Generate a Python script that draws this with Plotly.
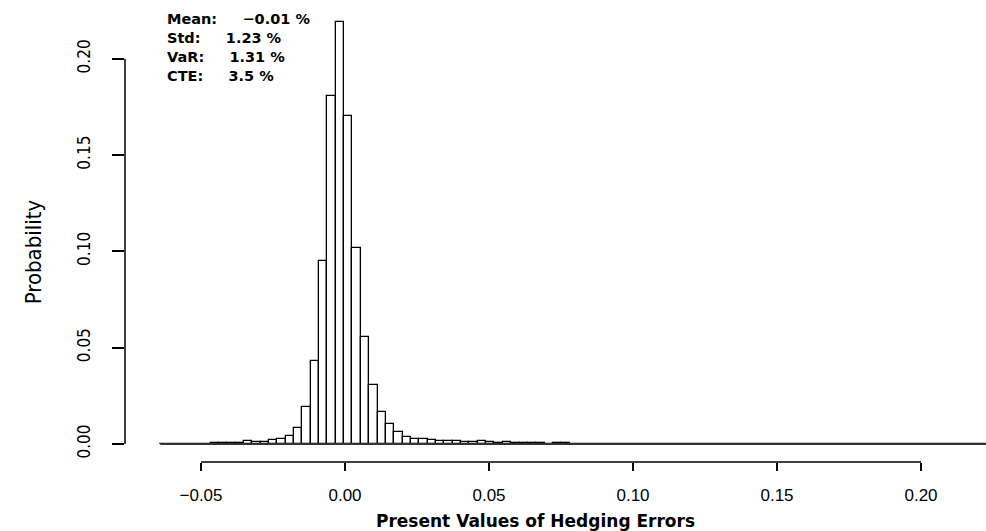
import plotly.graph_objects as go

# histogram of present values of hedging errors (probability per bin)
bin_start = -0.0641
bin_width = 0.0029
probs = [
    0.0001, 0.0, 0.0002, 0.0, 0.0001, 0.0002, 0.0003, 0.0005, 0.0005, 0.0006,
    0.0015, 0.0008, 0.0012, 0.0019, 0.0026, 0.0043, 0.0081, 0.0194, 0.0431, 0.0951,
    0.1810, 0.2194, 0.1706, 0.1017, 0.0557, 0.0306, 0.0167, 0.0104, 0.0061, 0.0038,
    0.0028, 0.0024, 0.0022, 0.0017, 0.0017, 0.0015, 0.0010, 0.0009, 0.0014, 0.0011,
    0.0007, 0.0008, 0.0005, 0.0004, 0.0004, 0.0003, 0.0002, 0.0003, 0.0003, 0.0002,
    0.0002, 0.0002, 0.0002, 0.0, 0.0, 0.0002, 0.0002, 0.0002, 0.0002, 0.0002,
    0.0002, 0.0002, 0.0002, 0.0002, 0.0002, 0.0, 0.0002, 0.0002, 0.0002, 0.0002,
    0.0002, 0.0002, 0.0002, 0.0002, 0.0002, 0.0001, 0.0, 0.0, 0.0, 0.0,
    0.0, 0.0, 0.0, 0.0, 0.0, 0.0, 0.0, 0.0, 0.0, 0.0,
    0.0002, 0.0002, 0.0002, 0.0001, 0.0002, 0.0002, 0.0002, 0.0002, 0.0002,
]
x_ticks = [-0.05, 0.00, 0.05, 0.10, 0.15, 0.20]
y_ticks = [0.00, 0.05, 0.10, 0.15, 0.20]

stats_labels = ["Mean:", "Std:", "VaR:", "CTE:"]
stats_values = ["\u22120.01", "1.23", "1.31", "3.5"]

centers = [bin_start + (i + 0.5) * bin_width for i in range(len(probs))]
x_end = bin_start + len(probs) * bin_width

narrow = "Liberation Sans Narrow, DejaVu Sans Condensed, Arial Narrow, sans-serif"
arial = "Liberation Sans, Arial, Helvetica, sans-serif"
wide = "DejaVu Sans, Verdana, sans-serif"

fig = go.Figure()
fig.add_trace(go.Bar(
    x=centers, y=probs, width=bin_width,
    marker=dict(color="white", line=dict(color="black", width=1.3)),
    hoverinfo="x+y",
))

# baseline under the bars and R-style axis lines (only between first/last tick)
fig.add_shape(type="line", xref="x", yref="y", x0=bin_start, x1=x_end, y0=0, y1=0,
              line=dict(color="#333333", width=1.8))
fig.add_shape(type="line", xref="x", yref="paper", x0=x_ticks[0], x1=x_ticks[-1], y0=0, y1=0,
              line=dict(color="black", width=1.5))
fig.add_shape(type="line", xref="paper", yref="y", x0=0, x1=0, y0=y_ticks[0], y1=y_ticks[-1],
              line=dict(color="black", width=1.5))

gap = "\u00a0" * 5
stats_text = "<br>".join(f"<b>{lab}{gap}{val}\u00a0%</b>" for lab, val in zip(stats_labels, stats_values))
fig.add_annotation(
    text=stats_text, xref="paper", yref="paper",
    x=0, y=1, xshift=40, yshift=-4,
    xanchor="left", yanchor="top", showarrow=False, align="left",
    font=dict(family=wide, size=14.5, color="black"),
)

fig.add_annotation(text="Probability", xref="paper", yref="paper", x=0, y=0.46,
                   xshift=-106, textangle=-90, showarrow=False,
                   font=dict(family=narrow, size=22, color="black"))
fig.add_annotation(text="<b>Present Values of Hedging Errors</b>", xref="paper", yref="paper",
                   x=0, y=0, xshift=410, yshift=-59, xanchor="center", yanchor="middle",
                   showarrow=False, font=dict(family=wide, size=17, color="black"))

fig.update_layout(
    width=986, height=531,
    margin=dict(l=125, r=0, t=5, b=69),
    paper_bgcolor="white", plot_bgcolor="white",
    showlegend=False, bargap=0,
    xaxis=dict(range=[-0.07639, 0.22257], tickvals=x_ticks, tickformat=".2f",
               ticks="outside", ticklen=8, tickwidth=1.5, tickcolor="black",
               showline=False, showgrid=False, zeroline=False,
               ticklabelstandoff=10,
               tickfont=dict(family=arial, size=17, color="black")),
    yaxis=dict(range=[-0.00935, 0.228], tickvals=y_ticks, tickformat=".2f",
               ticks="outside", ticklen=12, tickwidth=1.5, tickcolor="black",
               showline=False, showgrid=False, zeroline=False,
               tickangle=-90, ticklabelstandoff=15,
               tickfont=dict(family=narrow, size=17, color="black")),
)

fig.write_html("out.html", config={"displayModeBar": False},
               post_script="document.body.style.margin='0px';")
